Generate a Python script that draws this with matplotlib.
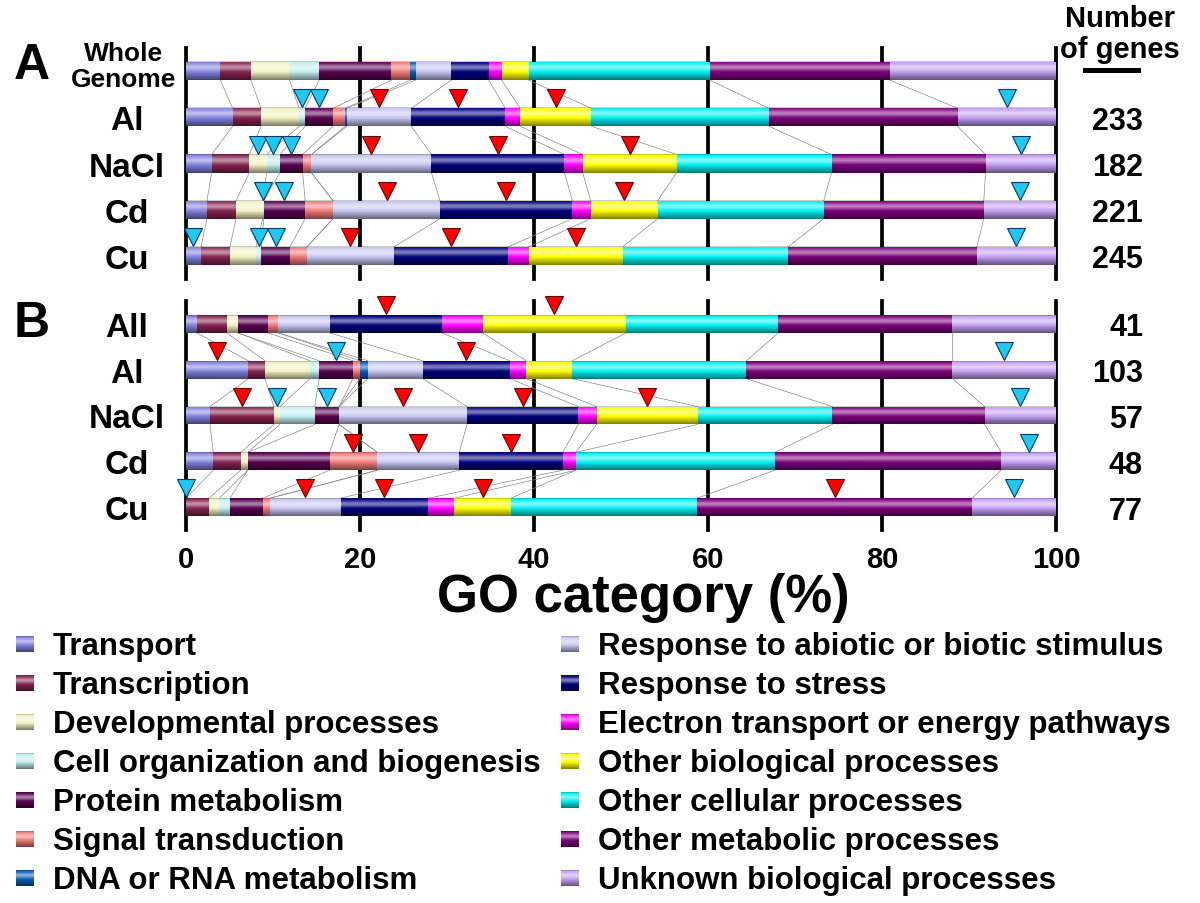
import numpy as np
import matplotlib.pyplot as plt
from matplotlib.transforms import blended_transform_factory
from matplotlib.lines import Line2D

plt.rcParams['font.family'] = ['Liberation Sans', 'DejaVu Sans']
plt.rcParams['font.weight'] = 'bold'

categories = ['Transport', 'Transcription', 'Developmental processes',
              'Cell organization and biogenesis', 'Protein metabolism',
              'Signal transduction', 'DNA or RNA metabolism',
              'Response to abiotic or biotic stimulus', 'Response to stress',
              'Electron transport or energy pathways', 'Other biological processes',
              'Other cellular processes', 'Other metabolic processes',
              'Unknown biological processes']
colors = ['#8282dc', '#84244f', '#f2f2c2', '#c2f0f0', '#56004f', '#f07a78',
          '#0a5cb8', '#c6c6f2', '#00007c', '#ff00ff', '#ffff00', '#00f0f0',
          '#7a007a', '#c4a0f2']

# panel A: % of genes per GO category
rows_a = ['Whole\nGenome', 'Al', 'NaCl', 'Cd', 'Cu']
genes_a = ['', '233', '182', '221', '245']
whole_genome = [3.95, 3.52, 4.43, 3.4, 8.3, 2.2, 0.6, 4.1, 4.3, 1.5, 3.1, 20.8, 20.7, 19.1]
al_a = [5.36, 3.26, 4.38, 0.7, 3.2, 1.4, 0.2, 7.4, 10.8, 1.7, 8.2, 20.4, 21.7, 11.3]
nacl_a = [2.95, 4.33, 1.99, 1.53, 2.6, 1.0, 0.0, 13.8, 15.3, 2.1, 10.8, 17.8, 17.7, 8.1]
cd_a = [2.41, 3.34, 3.06, 0.12, 4.77, 3.2, 0.0, 12.3, 15.2, 2.1, 7.7, 19.1, 18.4, 8.3]
cu_a = [1.72, 3.34, 2.99, 0.61, 3.29, 1.95, 0.0, 10.0, 13.1, 2.4, 10.8, 19.0, 21.7, 9.1]
# over-represented (red) / under-represented (cyan) category indices
over_a = [[], [7, 8, 10], [7, 8, 10], [7, 8, 10], [7, 8, 10]]
under_a = [[], [3, 4, 13], [2, 3, 4, 13], [3, 4, 13], [0, 3, 4, 13]]

# panel B
rows_b = ['All', 'Al', 'NaCl', 'Cd', 'Cu']
genes_b = ['41', '103', '57', '48', '77']
all_b = [1.23, 3.44, 1.27, 0.0, 3.45, 1.21, 0.0, 5.9, 12.9, 4.7, 16.5, 17.5, 20.0, 11.9]
al_b = [7.16, 1.92, 5.17, 1.05, 3.9, 0.8, 0.9, 6.3, 10.0, 1.9, 5.3, 20.0, 23.7, 11.9]
nacl_b = [2.76, 7.34, 0.7, 4.0, 2.8, 0.0, 0.0, 14.7, 12.8, 2.1, 11.6, 15.5, 17.5, 8.2]
cd_b = [3.14, 3.14, 0.81, 0.0, 9.41, 5.5, 0.0, 9.4, 11.9, 1.5, 0.0, 22.9, 26.0, 6.3]
cu_b = [0.0, 2.64, 1.19, 1.23, 3.75, 0.85, 0.0, 8.1, 10.1, 3.0, 6.5, 21.4, 31.6, 9.6]
over_b = [[8, 10], [0, 8], [1, 7, 8, 10], [5, 7, 8], [7, 8, 10, 12]]
under_b = [[], [4, 13], [2, 4, 13], [13], [0, 13]]

W, H = 1200, 904
BAR_H = 0.39


def fx(x):
    return x / W


def fy(y):
    return 1 - y / H


def gradient():
    t = np.linspace(0, 1, 48)
    s = 0.5 * np.exp(-((t - 0.32) / 0.17) ** 2) - 0.5 * np.clip((t - 0.5) / 0.5, 0, 1) ** 1.2
    s = s - 0.25 * (t < 0.06)
    img = np.zeros((len(t), 1, 4))
    img[..., :3] = (s > 0).astype(float)[:, None, None]
    img[..., 3] = np.abs(s)[:, None]
    return img


def draw_panel(ax, data, over, under, labels, genes):
    cums = []
    for i, vals in enumerate(data):
        vals = np.array(vals)
        lefts = np.concatenate([[0], np.cumsum(vals)[:-1]])
        ax.barh(i, vals, left=lefts, height=BAR_H, color=colors, linewidth=0, zorder=2)
        ax.imshow(gradient(), extent=(0, lefts[-1] + vals[-1], i + BAR_H / 2, i - BAR_H / 2),
                  aspect='auto', interpolation='bilinear', zorder=3)
        cums.append(np.cumsum(vals))
        for k in over[i]:
            ax.plot(lefts[k] + vals[k] / 2, i - 0.41, marker='v', ms=12.5, color='#ff0000',
                    mec='#6a0000', mew=0.8, clip_on=False, zorder=5)
        for k in under[i]:
            ax.plot(lefts[k] + vals[k] / 2, i - 0.41, marker='v', ms=12.5, color='#1ec8f0',
                    mec='#003a6a', mew=0.8, clip_on=False, zorder=5)
    for i in range(len(data) - 1):
        for k in range(len(colors) - 1):
            ax.plot([cums[i][k], cums[i + 1][k]], [i + BAR_H / 2, i + 1 - BAR_H / 2],
                    color='#8a8a8a', lw=0.5, zorder=1)
    for x in range(0, 101, 20):
        ax.axvline(x, color='black', lw=2.7, zorder=0, clip_on=False)
    ax.set_xlim(0, 100)
    ax.set_ylim(4.5, -0.5)
    for s in ax.spines.values():
        s.set_visible(False)
    ax.set_yticks([])
    tr = blended_transform_factory(ax.figure.transFigure, ax.transData)
    for i, (lab, g) in enumerate(zip(labels, genes)):
        if '\n' not in lab:
            ax.text(fx(127), i, lab, transform=tr, ha='center', va='center_baseline',
                    fontsize=24, fontweight='bold')
        ax.text(fx(1143), i, g, transform=tr, ha='right', va='center_baseline',
                fontsize=22, fontweight='bold')


fig = plt.figure(figsize=(12, 9.04), dpi=100)

ax_a = fig.add_axes([fx(186), fy(280), fx(870), 231 / H])
ax_b = fig.add_axes([fx(186), fy(531), fx(870), 229 / H])

draw_panel(ax_a, [whole_genome, al_a, nacl_a, cd_a, cu_a], over_a, under_a, rows_a, genes_a)
draw_panel(ax_b, [all_b, al_b, nacl_b, cd_b, cu_b], over_b, under_b, rows_b, genes_b)

ax_a.set_xticks([])
ax_b.set_xticks(range(0, 101, 20))
ax_b.tick_params(axis='x', length=0, pad=11, labelsize=21)
for lab in ax_b.get_xticklabels():
    lab.set_fontweight('bold')

fig.text(fx(124), fy(42), rows_a[0], ha='center', va='top', fontsize=19,
         linespacing=1.1, multialignment='center')
fig.text(fx(32), fy(66), 'A', ha='center', va='center', fontsize=36)
fig.text(fx(32), fy(324), 'B', ha='center', va='center', fontsize=36)
fig.text(fx(1120), fy(5), 'Number\nof genes', ha='center', va='top', fontsize=21,
         linespacing=1.15, multialignment='center')
fig.add_artist(Line2D([fx(1085), fx(1138)], [fy(70.5), fy(70.5)], color='black', lw=3.6,
                      transform=fig.transFigure))
fig.text(fx(643), fy(598), 'GO category (%)', ha='center', va='center', fontsize=38)

# legend drawn in a full figure overlay with pixel coordinates
ax_leg = fig.add_axes([0, 0, 1, 1], zorder=-1)
ax_leg.set_facecolor('none')
ax_leg.axis('off')
for j, (cat, col) in enumerate(zip(categories, colors)):
    col_x = 25 if j < 7 else 570
    yc = 645 + 39 * (j % 7)
    ax_leg.add_patch(plt.Rectangle((col_x - 9, yc - 8), 18, 16, facecolor=col, lw=0))
    ax_leg.imshow(gradient(), extent=(col_x - 9, col_x + 9, yc + 8, yc - 8), aspect='auto',
                  interpolation='bilinear', zorder=3)
    ax_leg.text(col_x + 28, yc + 10.5, cat, ha='left', va='baseline', fontsize=22.5)
ax_leg.set_xlim(0, W)
ax_leg.set_ylim(H, 0)

fig.savefig('out.png', dpi=100)
